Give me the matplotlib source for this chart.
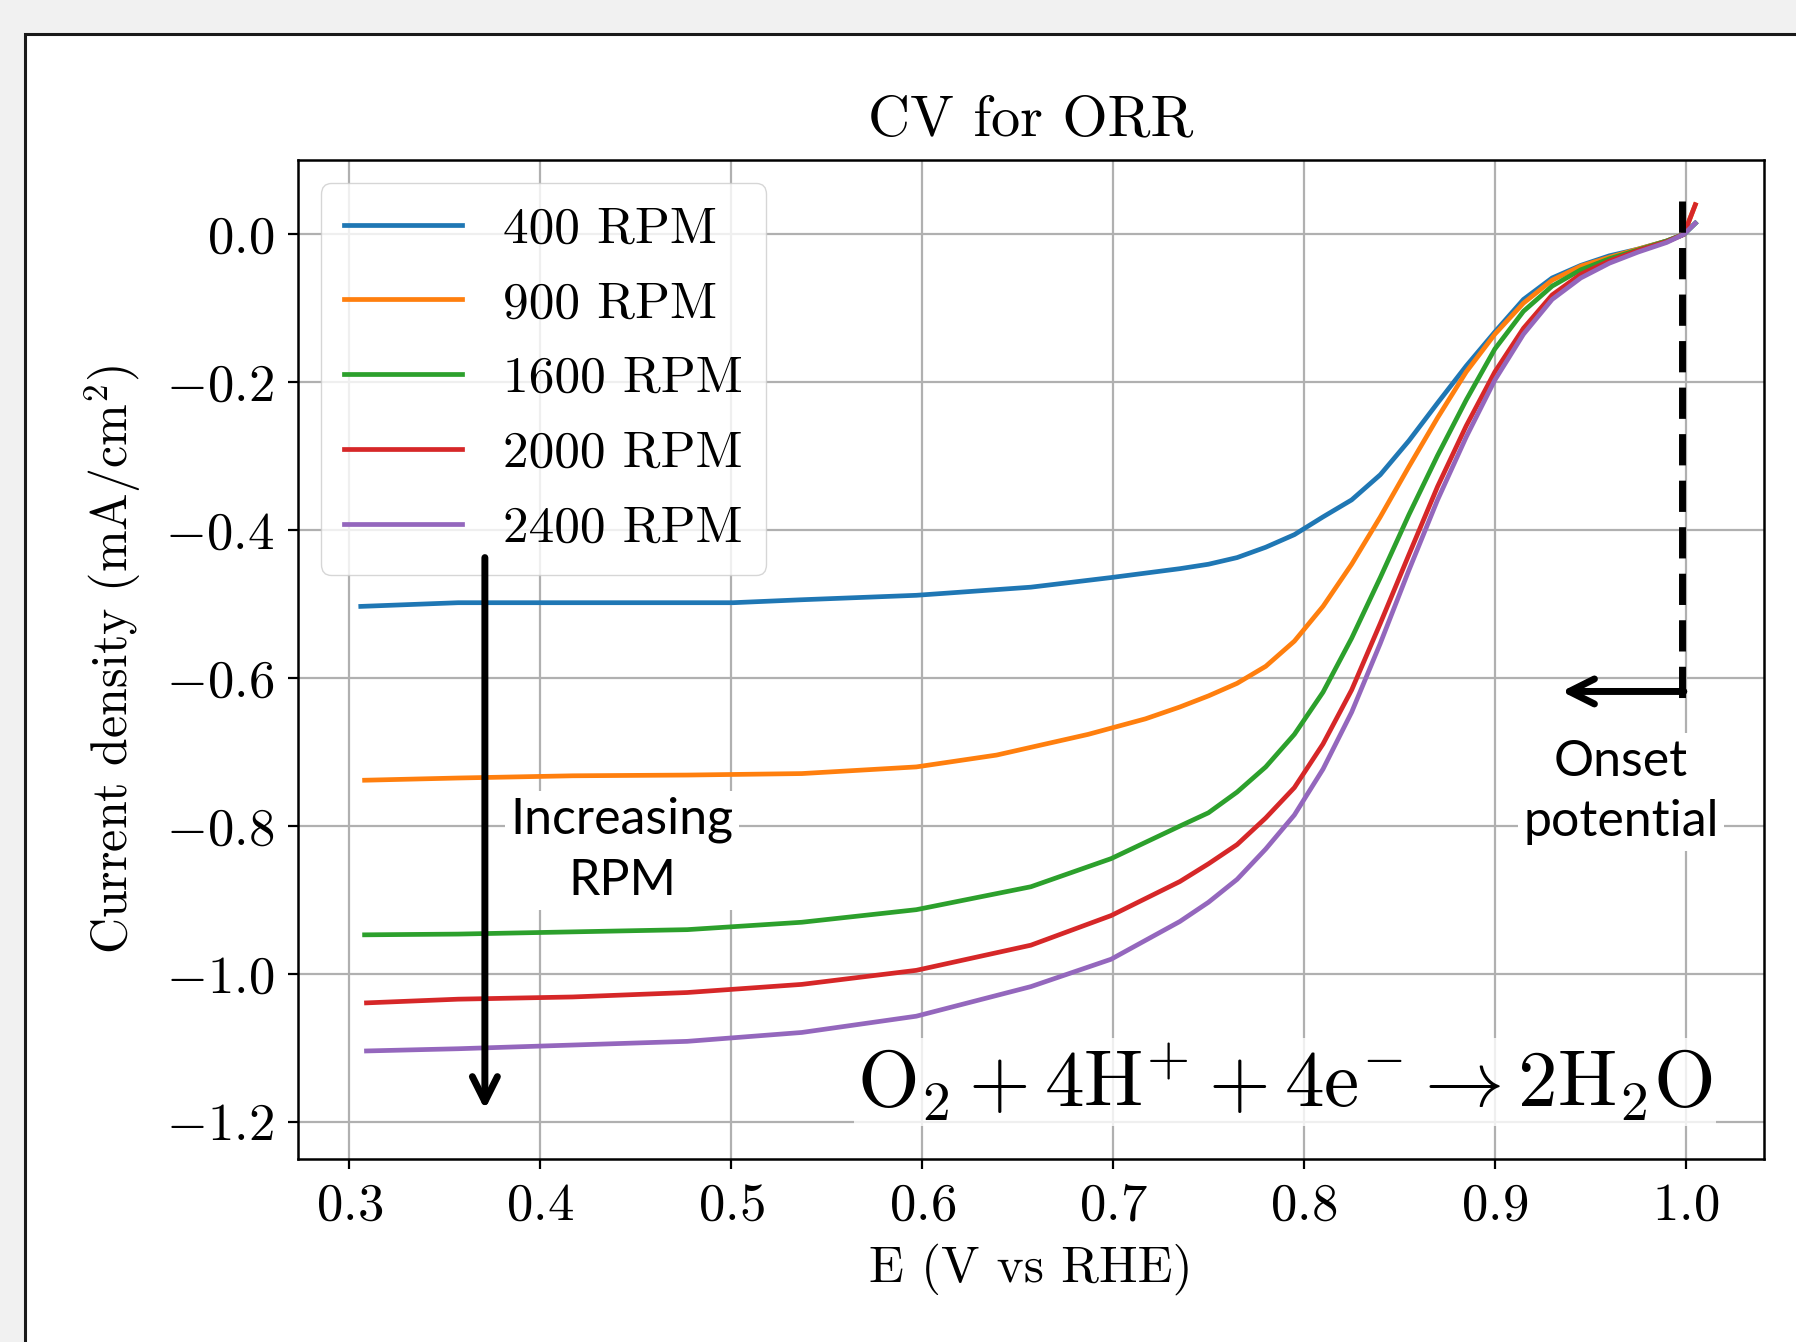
import numpy as np
import matplotlib
matplotlib.use("Agg")
import matplotlib.pyplot as plt
from matplotlib.patches import Rectangle

plt.rcParams["font.family"] = ["cmr10", "DejaVu Serif"]
plt.rcParams["mathtext.fontset"] = "cm"
plt.rcParams["axes.formatter.use_mathtext"] = True
plt.rcParams["axes.unicode_minus"] = True

# potential (V vs RHE) and current density (mA/cm^2)
E_400 = [0.306, 0.357, 0.417, 0.501, 0.537, 0.597, 0.657, 0.699, 0.735, 0.75, 0.765, 0.78, 0.795,
         0.81, 0.825, 0.84, 0.855, 0.87, 0.885, 0.90, 0.915, 0.93, 0.945, 0.96, 0.975, 0.99, 0.999, 1.005]
j_400 = [-0.503, -0.498, -0.498, -0.498, -0.494, -0.488, -0.477, -0.464, -0.452, -0.446, -0.437, -0.423, -0.406,
         -0.382, -0.359, -0.325, -0.279, -0.228, -0.178, -0.132, -0.088, -0.059, -0.042, -0.029, -0.020, -0.009, 0.0, 0.015]

E_900 = [0.308, 0.357, 0.417, 0.477, 0.537, 0.597, 0.639, 0.687, 0.717, 0.735, 0.75, 0.765, 0.78, 0.795,
         0.81, 0.825, 0.84, 0.855, 0.87, 0.885, 0.90, 0.915, 0.93, 0.945, 0.96, 0.975, 0.99, 0.999, 1.005]
j_900 = [-0.738, -0.735, -0.732, -0.731, -0.729, -0.720, -0.704, -0.676, -0.655, -0.639, -0.624, -0.607, -0.584, -0.550,
         -0.503, -0.446, -0.382, -0.314, -0.248, -0.186, -0.135, -0.093, -0.062, -0.043, -0.031, -0.020, -0.009, 0.0, 0.04]

E_1600 = [0.308, 0.357, 0.417, 0.477, 0.537, 0.597, 0.657, 0.699, 0.735, 0.75, 0.765, 0.78, 0.795,
          0.81, 0.825, 0.84, 0.855, 0.87, 0.885, 0.90, 0.915, 0.93, 0.945, 0.96, 0.975, 0.99, 0.999, 1.005]
j_1600 = [-0.947, -0.946, -0.943, -0.940, -0.930, -0.913, -0.882, -0.844, -0.800, -0.782, -0.754, -0.720, -0.676,
          -0.619, -0.546, -0.464, -0.379, -0.299, -0.224, -0.155, -0.104, -0.070, -0.048, -0.033, -0.021, -0.009, 0.0, 0.015]

E_2000 = [0.309, 0.357, 0.417, 0.477, 0.537, 0.597, 0.657, 0.699, 0.735, 0.75, 0.765, 0.78, 0.795,
          0.81, 0.825, 0.84, 0.855, 0.87, 0.885, 0.90, 0.915, 0.93, 0.945, 0.96, 0.975, 0.99, 0.999, 1.005]
j_2000 = [-1.039, -1.034, -1.031, -1.025, -1.014, -0.995, -0.961, -0.921, -0.875, -0.851, -0.825, -0.789, -0.748,
          -0.689, -0.616, -0.526, -0.433, -0.341, -0.259, -0.186, -0.127, -0.082, -0.054, -0.036, -0.022, -0.010, 0.0, 0.04]

E_2400 = [0.309, 0.357, 0.417, 0.477, 0.537, 0.597, 0.657, 0.699, 0.735, 0.75, 0.765, 0.78, 0.795,
          0.81, 0.825, 0.84, 0.855, 0.87, 0.885, 0.90, 0.915, 0.93, 0.945, 0.96, 0.975, 0.99, 0.999, 1.005]
j_2400 = [-1.104, -1.101, -1.096, -1.091, -1.079, -1.057, -1.017, -0.980, -0.929, -0.903, -0.872, -0.831, -0.785,
          -0.723, -0.646, -0.553, -0.454, -0.359, -0.274, -0.197, -0.135, -0.088, -0.059, -0.039, -0.024, -0.011, 0.0, 0.015]

labels = ["400 RPM", "900 RPM", "1600 RPM", "2000 RPM", "2400 RPM"]
onset_E = 0.998

fig = plt.figure(figsize=(17.96, 13.42), dpi=100, facecolor="#f1f1f1")
# white "window" with black frame behind the plot
fig.patches.append(Rectangle((0.0139, -0.2), 1.2, 1.1747, transform=fig.transFigure,
                             facecolor="white", edgecolor="#1a1a1a", lw=2.2, zorder=-10))

ax = fig.add_axes([0.1658, 0.1364, 0.8164, 0.7441])
for E, j, lab in zip([E_400, E_900, E_1600, E_2000, E_2400],
                     [j_400, j_900, j_1600, j_2000, j_2400], labels):
    ax.plot(E, j, lw=3.4, label=lab)

ax.set_xlim(0.273, 1.041)
ax.set_ylim(-1.25, 0.10)
ax.set_xticks(np.arange(0.3, 1.01, 0.1))
ax.set_yticks([-1.2, -1.0, -0.8, -0.6, -0.4, -0.2, 0.0])
ax.grid(True, color="#b0b0b0", lw=1.6)
ax.set_axisbelow(True)
for s in ax.spines.values():
    s.set_linewidth(1.8)
ax.tick_params(labelsize=38, length=7, width=1.6, pad=10)

ax.set_title("CV for ORR", fontsize=42, pad=18)
ax.set_xlabel("E (V vs RHE)", fontsize=37, labelpad=10)
ax.set_ylabel("Current density (mA/cm$^2$)", fontsize=36, labelpad=16)

leg = ax.legend(loc="upper left", fontsize=37, handlelength=2.3, borderaxespad=0.45,
                labelspacing=0.56, handletextpad=0.8, borderpad=0.45)
for h in leg.get_lines():
    h.set_linewidth(3.4)

# onset potential marker
ax.plot([onset_E, onset_E], [0.045, -0.635], color="black", lw=5, ls=(0, (4.5, 2.2)), zorder=4)
ax.annotate("", xy=(0.935, -0.618), xytext=(onset_E + 0.001, -0.618),
            arrowprops=dict(arrowstyle="->", lw=5, color="black", mutation_scale=45,
                            shrinkA=0, shrinkB=0), zorder=6)
ax.text(0.966, -0.754, "Onset\npotential", family=["Lato", "DejaVu Sans"], fontsize=36,
        ha="center", va="center", linespacing=1.4,
        bbox=dict(facecolor="white", edgecolor="none", pad=4), zorder=3)

# increasing RPM arrow
ax.annotate("", xy=(0.371, -1.183), xytext=(0.371, -0.437),
            arrowprops=dict(arrowstyle="->", lw=5, color="black", mutation_scale=45,
                            shrinkA=0, shrinkB=0), zorder=6)
ax.text(0.443, -0.833, "Increasing\nRPM", family=["Lato", "DejaVu Sans"], fontsize=36,
        ha="center", va="center", linespacing=1.4,
        bbox=dict(facecolor="white", edgecolor="none", pad=4), zorder=3)

ax.text(0.790, -1.146, r"$\mathrm{O_2 + 4H^{+} + 4e^{-} \rightarrow 2H_2O}$", fontsize=57,
        ha="center", va="center",
        bbox=dict(facecolor="white", edgecolor="none", alpha=0.8, pad=2), zorder=3)

fig.savefig("out.png", dpi=100, facecolor=fig.get_facecolor())
